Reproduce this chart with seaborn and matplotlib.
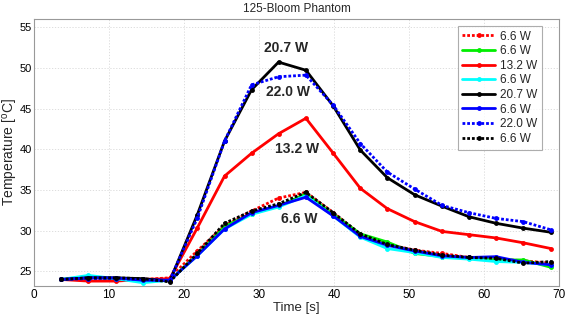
import numpy as np
import pandas as pd
import matplotlib
matplotlib.use("Agg")
import matplotlib.pyplot as plt
import seaborn as sns

time_s = [3.6, 7.25, 10.9, 14.5, 18.1, 21.75, 25.4, 29.0, 32.6, 36.25,
          39.9, 43.5, 47.1, 50.75, 54.4, 58.0, 61.6, 65.25, 68.9]

red_dotted_66 = [24.0, 24.0, 24.1, 24.0, 24.2, 27.5, 30.6, 32.4, 34.0, 34.7,
                 32.2, 29.5, 28.3, 27.6, 27.2, 26.7, 26.5, 26.3, 26.0]
green_66 = [24.0, 24.3, 24.1, 23.8, 23.9, 27.0, 30.5, 32.1, 33.0, 34.5,
            32.0, 29.6, 28.6, 27.2, 26.8, 26.6, 26.4, 26.4, 25.5]
red_132 = [24.0, 23.8, 23.8, 24.0, 24.1, 30.3, 36.7, 39.5, 41.9, 43.8,
           39.5, 35.2, 32.7, 31.1, 29.9, 29.5, 29.1, 28.5, 27.8]
cyan_66 = [24.0, 24.5, 24.1, 23.6, 23.9, 26.9, 30.2, 32.0, 32.9, 34.3,
           31.8, 29.2, 27.8, 27.3, 26.7, 26.5, 26.2, 26.1, 25.8]
black_207 = [24.0, 24.2, 24.2, 24.1, 23.8, 31.9, 41.0, 47.3, 50.7, 49.7,
             45.3, 39.9, 36.5, 34.4, 33.0, 31.7, 30.9, 30.3, 29.8]
blue_66 = [24.0, 24.2, 24.2, 23.9, 23.9, 26.9, 30.2, 32.2, 33.1, 34.1,
           31.8, 29.3, 28.2, 27.5, 26.9, 26.7, 26.8, 26.1, 25.8]
blue_dotted_220 = [24.0, 24.1, 24.1, 24.0, 23.9, 31.5, 41.0, 47.9, 48.9, 49.1,
                   45.4, 40.7, 37.2, 35.1, 33.1, 32.2, 31.5, 31.1, 30.1]
black_dotted_66 = [24.0, 24.2, 24.2, 24.1, 23.7, 27.2, 30.9, 32.4, 33.3, 34.7,
                   32.2, 29.6, 28.3, 27.6, 27.0, 26.7, 26.6, 26.0, 26.2]

series_labels = ["6.6 W", "6.6 W", "13.2 W", "6.6 W", "20.7 W", "6.6 W", "22.0 W", "6.6 W"]
series_values = [red_dotted_66, green_66, red_132, cyan_66, black_207, blue_66,
                 blue_dotted_220, black_dotted_66]
series_colors = ["#ff0000", "#00ee00", "#ff0000", "#00ffff", "#000000", "#0000ff",
                 "#0000ff", "#000000"]
series_dotted = [True, False, False, False, False, False, True, True]

annot_texts = ["20.7 W", "22.0 W", "13.2 W", "6.6 W"]
annot_x = [33.6, 33.9, 35.1, 35.4]
annot_y = [52.4, 47.0, 40.0, 31.4]

sns.set_style("white")
plt.rcParams["font.family"] = ["Liberation Sans", "DejaVu Sans"]
plt.rcParams["mathtext.fontset"] = "custom"
plt.rcParams["mathtext.rm"] = "Liberation Sans"
plt.rcParams["mathtext.it"] = "Liberation Sans"

fig = plt.figure(figsize=(5.67, 3.16), dpi=100)
ax = fig.add_axes([0.06, 0.095, 0.926, 0.845])

for i, (lab, vals, col, dotted) in enumerate(zip(series_labels, series_values, series_colors, series_dotted)):
    df = pd.DataFrame({"t": time_s, "T": vals})
    ls = (0, (1.0, 0.7)) if dotted else "-"
    sns.lineplot(data=df, x="t", y="T", ax=ax, color=col, linestyle=ls,
                 linewidth=2.0, marker="o", markersize=3.5, markeredgewidth=0,
                 label=f"{lab}_{i}", zorder=3 + i)

ax.set_xlim(0, 70)
ax.set_ylim(23.2, 56)
ax.set_xticks(np.arange(0, 71, 10))
ax.set_yticks(np.arange(25, 56, 5))
ax.tick_params(axis="both", direction="in", length=3, labelsize=8.5, colors="#888888",
               labelcolor="black", pad=2)
ax.tick_params(axis="y", labelsize=8, pad=1.5)
ax.grid(True, linestyle=(0, (1.5, 2)), color="#d8d8d8", linewidth=0.6)
for s in ax.spines.values():
    s.set_color("#999999")
    s.set_linewidth(0.8)

ax.set_xlabel("Time [s]", fontsize=9.5, labelpad=1)
ax.set_ylabel("Temperature [$^{\\mathrm{o}}$C]", fontsize=10)
ax.yaxis.label.set_verticalalignment("center")
ax.yaxis.set_label_coords(-0.045, 0.5)
ax.set_title("125-Bloom Phantom", fontsize=8.5, pad=5)

for txt, x, y in zip(annot_texts, annot_x, annot_y):
    ax.text(x, y, txt, ha="center", va="center", fontsize=10, fontweight="bold", zorder=20)

handles, labels = ax.get_legend_handles_labels()
leg = ax.legend(handles, series_labels, loc="upper right", bbox_to_anchor=(0.968, 0.974),
                fontsize=8.5, frameon=True, fancybox=False, handlelength=2.8,
                handletextpad=0.4, labelspacing=0.22, borderpad=0.4, borderaxespad=0)
leg.get_frame().set_edgecolor("#999999")
leg.get_frame().set_linewidth(0.8)
leg.set_zorder(30)

fig.savefig("out.png", dpi=100)
